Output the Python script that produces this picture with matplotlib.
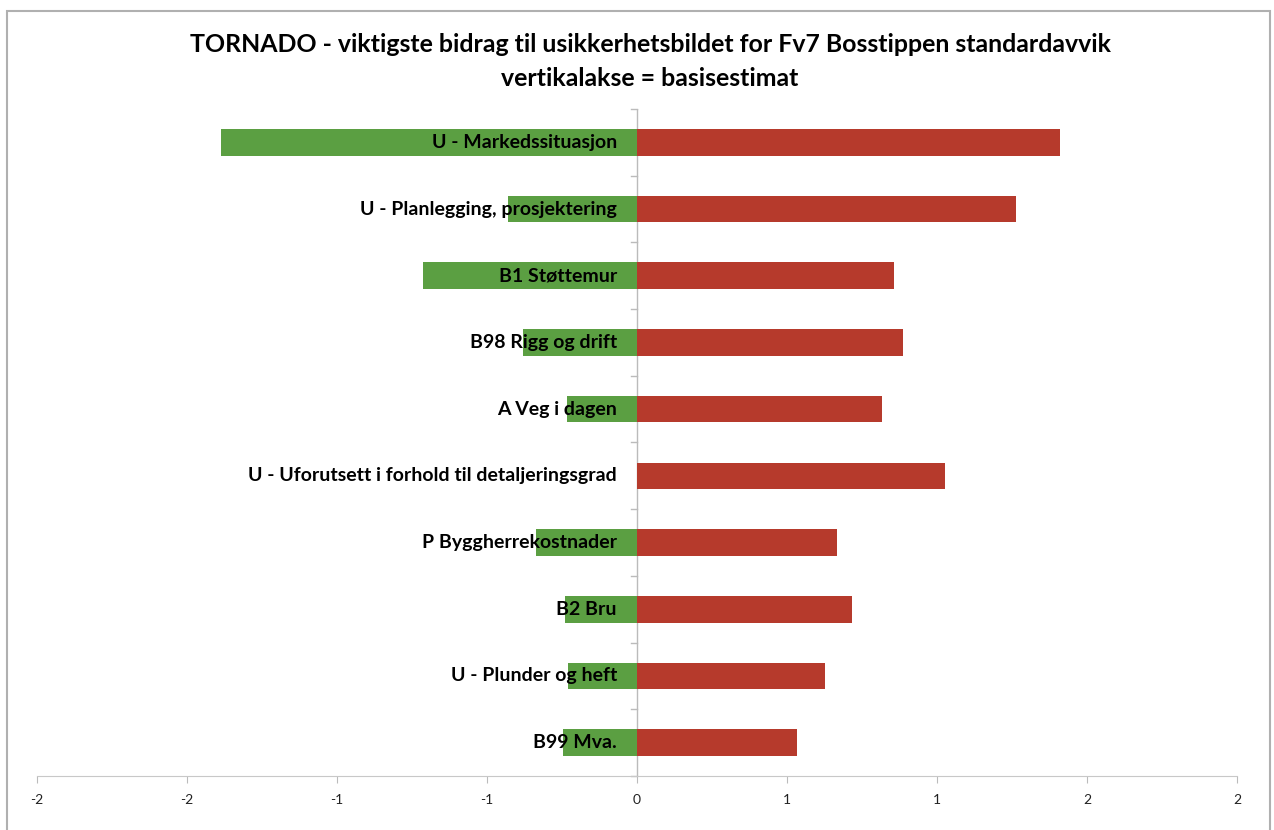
import matplotlib.pyplot as plt
from matplotlib.patches import Rectangle

plt.rcParams['font.family'] = ['Lato', 'DejaVu Sans']

kategorier = ['U - Markedssituasjon', 'U - Planlegging, prosjektering', 'B1 Støttemur',
              'B98 Rigg og drift', 'A Veg i dagen', 'U - Uforutsett i forhold til detaljeringsgrad',
              'P Byggherrekostnader', 'B2 Bru', 'U - Plunder og heft', 'B99 Mva.']
lav = [-1.387, -0.43, -0.713, -0.38, -0.233, 0.0, -0.337, -0.24, -0.23, -0.247]
hoy = [1.41, 1.263, 0.857, 0.887, 0.817, 1.027, 0.667, 0.717, 0.627, 0.533]
xticks = [-2, -1.5, -1, -0.5, 0, 0.5, 1, 1.5, 2]
xtick_tekst = ['-2', '-2', '-1', '-1', '0', '1', '1', '2', '2']

gronn = '#5B9F42'
rod = '#B63A2C'

W, H = 1274, 830
fig = plt.figure(figsize=(W / 100, H / 100), dpi=100)
ax = fig.add_axes([37 / W, (H - 776) / H, 1200 / W, 667 / H])

y = list(range(len(kategorier)))
ax.barh(y, lav, height=0.4, color=gronn, zorder=2)
ax.barh(y, hoy, height=0.4, color=rod, zorder=2)

for yi, navn in zip(y, kategorier):
    ax.text(-0.067, yi, navn, ha='right', va='center', fontsize=14,
            fontweight='bold', color='black', zorder=3)

ax.set_xlim(-2, 2)
ax.set_ylim(len(kategorier) - 0.5, -0.5)
ax.set_xticks(xticks)
ax.set_xticklabels(xtick_tekst, fontsize=10, color='#222222')
ax.set_yticks([])
ax.tick_params(axis='x', length=5, color='#BBBBBB', pad=8)

for s in ['top', 'right', 'left']:
    ax.spines[s].set_visible(False)
ax.spines['bottom'].set_color('#C8C8C8')

# midtakse med små streker mellom kategoriene
ax.axvline(0, color='#BBBBBB', lw=1, zorder=1)
for b in range(len(kategorier) + 1):
    ax.plot([-0.02, 0], [b - 0.5, b - 0.5], color='#BBBBBB', lw=1, zorder=1, clip_on=False)

fig.text(650 / W, 1 - 45 / H, 'TORNADO - viktigste bidrag til usikkerhetsbildet for Fv7 Bosstippen standardavvik',
         ha='center', va='center', fontsize=17.9, fontweight='bold')
fig.text(650 / W, 1 - 78 / H, 'vertikalakse = basisestimat',
         ha='center', va='center', fontsize=17.9, fontweight='bold')

# ramme rundt diagrammet
fig.patches.append(Rectangle((7 / W, -0.05), 1263 / W, 1.05 - 11 / H, transform=fig.transFigure,
                             fill=False, edgecolor='#B0B0B0', lw=1.5))

fig.savefig('out.png', dpi=100)
